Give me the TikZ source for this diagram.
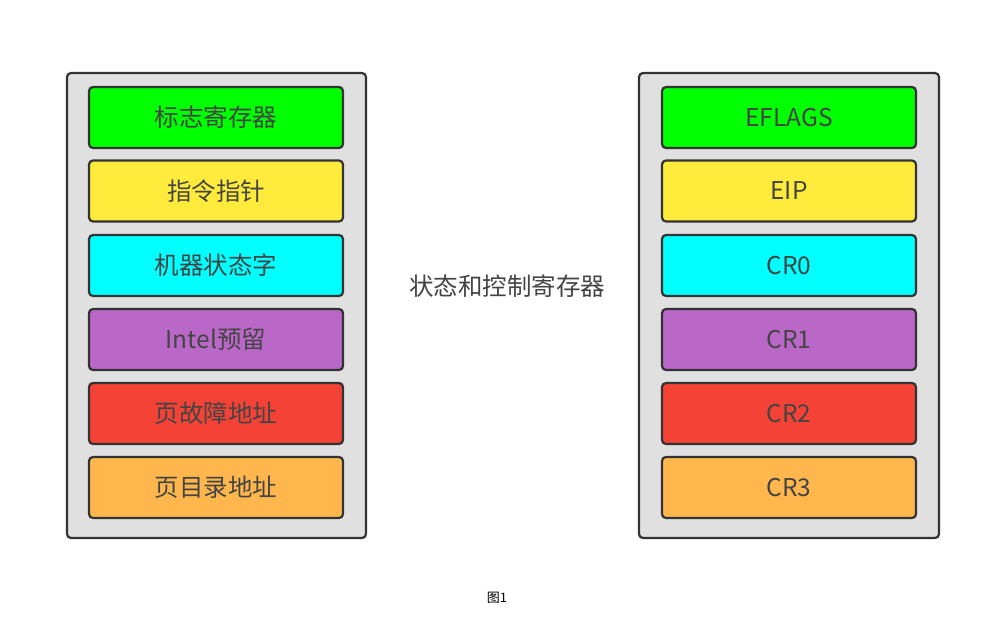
\documentclass[tikz,border=0pt]{standalone}
\usepackage{fontspec}
\newfontfamily\cjk{Noto Sans CJK SC}
\definecolor{cgreen}{HTML}{00FF00}
\definecolor{cyellow}{HTML}{FFEB3B}
\definecolor{ccyan}{HTML}{00FFFF}
\definecolor{cpurple}{HTML}{BA68C8}
\definecolor{cred}{HTML}{F44336}
\definecolor{corange}{HTML}{FFB74D}
\definecolor{cbox}{HTML}{E0E0E0}
\definecolor{cline}{HTML}{333333}
\definecolor{ctext}{HTML}{444444}
\newcommand{\lowered}[1]{\raisebox{-2pt}{#1}}
\begin{document}
\begin{tikzpicture}[x=1pt,y=-1pt,
  container/.style={draw=cline,line width=2.2pt,fill=cbox,rounded corners=4pt},
  regbox/.style={draw=cline,line width=2.2pt,rounded corners=4pt,minimum width=254pt,minimum height=61pt,inner sep=0pt,font=\cjk\fontsize{24.5}{24.5}\selectfont,text=ctext},
  lbl/.style={font=\cjk\fontsize{24.5}{24.5}\selectfont,text=ctext,inner sep=0pt}]
\useasboundingbox (0,0) rectangle (989,629);
\draw[container] (67,73) rectangle (366,538);
\draw[container] (639,73) rectangle (939,538);
\node[regbox,fill=cgreen]  (l1) at (216,117.5) {\lowered{标志寄存器}};
\node[regbox,fill=cyellow] (l2) at (216,191) {\lowered{指令指针}};
\node[regbox,fill=ccyan]   (l3) at (216,265.5) {\lowered{机器状态字}};
\node[regbox,fill=cpurple] (l4) at (216,339.5) {\lowered{Intel预留}};
\node[regbox,fill=cred]    (l5) at (216,413.5) {\lowered{页故障地址}};
\node[regbox,fill=corange] (l6) at (216,487.5) {\lowered{页目录地址}};
\node[regbox,fill=cgreen]  (r1) at (789,117.5) {\lowered{EFLAGS}};
\node[regbox,fill=cyellow] (r2) at (789,191) {\lowered{EIP}};
\node[regbox,fill=ccyan]   (r3) at (789,265.5) {\lowered{CR0}};
\node[regbox,fill=cpurple] (r4) at (789,339.5) {\lowered{CR1}};
\node[regbox,fill=cred]    (r5) at (789,413.5) {\lowered{CR2}};
\node[regbox,fill=corange] (r6) at (789,487.5) {\lowered{CR3}};
\node[lbl] (mid) at (507,286) {状态和控制寄存器};
\node[font=\cjk\fontsize{13}{13}\selectfont,inner sep=0pt] (cap) at (497,598) {图1};
\end{tikzpicture}
\end{document}
